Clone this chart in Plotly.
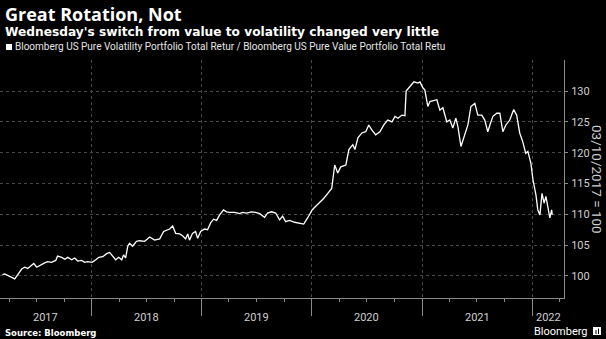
import plotly.graph_objects as go
import pandas as pd

# Ratio of the two Bloomberg pure-factor portfolios, rebased to 100 on 03/10/2017
dates = [
    "2017-03-10", "2017-03-18", "2017-04-03", "2017-04-20", "2017-04-30", "2017-05-13",
    "2017-05-23", "2017-06-02", "2017-06-12", "2017-06-22", "2017-07-02", "2017-07-15",
    "2017-07-28", "2017-08-07", "2017-08-20", "2017-09-03", "2017-09-09", "2017-09-23",
    "2017-10-03", "2017-10-13", "2017-10-26", "2017-11-05", "2017-11-15", "2017-11-28",
    "2017-12-08", "2017-12-18",
    "2018-01-02", "2018-01-14", "2018-01-24", "2018-02-06", "2018-02-19", "2018-03-01",
    "2018-03-11", "2018-03-21", "2018-03-31", "2018-04-10", "2018-04-16", "2018-04-23",
    "2018-04-30", "2018-05-06", "2018-05-16", "2018-05-29", "2018-06-08", "2018-06-25",
    "2018-07-12", "2018-07-28", "2018-08-14", "2018-08-27", "2018-09-16", "2018-09-26",
    "2018-10-06", "2018-10-19", "2018-10-29", "2018-11-08", "2018-11-15", "2018-11-21",
    "2018-12-01", "2018-12-11", "2018-12-18", "2018-12-28",
    "2019-01-10", "2019-01-20", "2019-01-30", "2019-02-09", "2019-02-19", "2019-03-01",
    "2019-03-14", "2019-03-24", "2019-04-03", "2019-04-20", "2019-05-06", "2019-05-16",
    "2019-05-29", "2019-06-15", "2019-06-28", "2019-07-12", "2019-07-28", "2019-08-07",
    "2019-08-20", "2019-09-03", "2019-09-16", "2019-09-26", "2019-10-06", "2019-10-19",
    "2019-11-05", "2019-11-21", "2019-12-05", "2019-12-18",
    "2020-01-02", "2020-01-14", "2020-01-31", "2020-02-10", "2020-02-23", "2020-03-07",
    "2020-03-17", "2020-03-27", "2020-04-06", "2020-04-23", "2020-05-03", "2020-05-16",
    "2020-05-23", "2020-06-02", "2020-06-15", "2020-06-28", "2020-07-08", "2020-07-18",
    "2020-07-31", "2020-08-14", "2020-08-27", "2020-09-09", "2020-09-23", "2020-10-03",
    "2020-10-13", "2020-10-26", "2020-11-05", "2020-11-09", "2020-11-21", "2020-12-05",
    "2020-12-18", "2020-12-25",
    "2021-01-04", "2021-01-10", "2021-01-20", "2021-01-27", "2021-02-19", "2021-03-01",
    "2021-03-11", "2021-03-24", "2021-04-03", "2021-04-13", "2021-04-23", "2021-04-30",
    "2021-05-10", "2021-05-23", "2021-06-02", "2021-06-12", "2021-06-25", "2021-07-05",
    "2021-07-18", "2021-07-28", "2021-08-07", "2021-08-14", "2021-08-24", "2021-09-06",
    "2021-09-16", "2021-09-26", "2021-10-06", "2021-10-19", "2021-11-01", "2021-11-11",
    "2021-11-21", "2021-12-01", "2021-12-11", "2021-12-18", "2021-12-28",
    "2022-01-04", "2022-01-14", "2022-01-20", "2022-01-27", "2022-02-03", "2022-02-10",
    "2022-02-16", "2022-02-23", "2022-03-01", "2022-03-07", "2022-03-09",
]
ratio = [
    100.2, 100.3, 99.9, 99.5, 100.2, 101.1,
    101.4, 101.2, 101.6, 102.0, 101.4, 101.8,
    102.1, 102.3, 102.2, 102.5, 103.2, 103.0,
    102.7, 103.0, 102.6, 102.9, 102.4, 102.5,
    102.2, 102.3,
    102.2, 102.6, 103.0, 103.1, 103.6, 103.8,
    103.2, 102.6, 103.0, 102.6, 103.4, 102.9,
    104.8, 105.3, 104.8, 105.6, 105.7, 105.6,
    106.3, 105.8, 106.0, 107.2, 107.6, 108.1,
    106.9, 106.8, 106.5, 106.0, 106.8, 105.8,
    106.9, 107.2, 106.1, 107.2,
    107.6, 107.5, 108.6, 109.2, 109.0, 109.9,
    110.7, 110.4, 110.3, 110.3, 110.1, 110.3,
    110.2, 110.4, 110.3, 110.1, 109.5, 110.2,
    110.4, 110.2, 109.1, 109.7, 108.8, 109.0,
    108.7, 108.6, 108.4, 109.4,
    110.7, 111.3, 112.1, 112.6, 113.4, 114.2,
    118.0, 116.7, 117.7, 118.0, 120.5, 121.3,
    120.5, 122.4, 123.2, 123.4, 124.5, 123.7,
    122.9, 123.4, 124.5, 125.3, 125.0, 125.9,
    125.6, 126.1, 126.0, 130.0, 130.7, 131.5,
    131.3, 131.5,
    130.5, 130.2, 127.5, 128.3, 128.6, 126.9,
    127.3, 125.0, 125.3, 124.0, 125.6, 124.2,
    121.0, 122.9, 124.5, 127.5, 128.0, 126.1,
    126.1, 125.3, 123.4, 124.5, 125.9, 126.4,
    126.4, 123.4, 124.5, 125.3, 127.0, 126.1,
    123.2, 121.8, 119.9, 120.2, 118.3,
    115.6, 113.1, 110.7, 109.9, 113.4, 111.8,
    112.9, 111.2, 109.4, 110.7, 109.9,
]

year_starts = ["2017-01-01", "2018-01-01", "2019-01-01", "2020-01-01",
               "2021-01-01", "2022-01-01", "2023-01-01"]
year_labels = ["2017", "2018", "2019", "2020", "2021", "2022"]
y_ticks = [100, 105, 110, 115, 120, 125, 130]

x_range = ["2017-03-02", "2022-04-17"]
y_range = [96.4, 135.05]

title = "Great Rotation, Not"
subtitle = "Wednesday's switch from value to volatility changed very little"
series_name = ("Bloomberg US Pure Volatility Portfolio Total Retur / "
               "Bloomberg US Pure Value Portfolio Total Retu")
y_title = "03/10/2017 = 100"
source = "Source: Bloomberg"

W, H = 606, 339
M_L, M_R, M_T, M_B = 0, 42, 60, 41

tick_col = "#cfcfcf"
axis_col = "#8a8a8a"
grid_col = "#484848"

fig = go.Figure()
fig.add_trace(go.Scatter(
    x=pd.to_datetime(dates), y=ratio, mode="lines",
    line=dict(color="#ffffff", width=1.3), showlegend=False,
    hoverinfo="skip",
))

pw, ph = W - M_L - M_R, H - M_T - M_B

# year labels sit centred in the visible part of each year
rng0, rng1 = pd.Timestamp(x_range[0]), pd.Timestamp(x_range[1])
annotations = []
for i, lab in enumerate(year_labels):
    a = max(pd.Timestamp(year_starts[i]), rng0)
    b = min(pd.Timestamp(year_starts[i + 1]), rng1)
    mid = a + (b - a) / 2
    annotations.append(dict(
        x=mid, y=-(317 - (H - M_B)) / ph, xref="x", yref="paper", text=lab,
        showarrow=False, xanchor="center", yanchor="middle", borderpad=0,
        font=dict(family="Roboto", size=11, color=tick_col),
    ))

# text blocks placed in pixels (x from left, y from top), converted below
texts = [
    dict(x=4, y=13.5, text="<b>" + title + "</b>", xanchor="left",
         font=dict(family="Open Sans", size=18, color="#ffffff")),
    dict(x=4, y=32.5, text="<b>" + subtitle + "</b>", xanchor="left",
         font=dict(family="DejaVu Sans", size=12.2, color="#ffffff")),
    dict(x=14, y=47, text=series_name, xanchor="left",
         font=dict(family="Roboto", size=10, color="#e6e6e6")),
    dict(x=597, y=179, text=y_title, xanchor="center", textangle=90,
         font=dict(family="Roboto", size=13.5, color=tick_col)),
    dict(x=4, y=332.5, text="<b>" + source + "</b>", xanchor="left",
         font=dict(family="DejaVu Sans", size=8.5, color="#ffffff")),
    dict(x=589, y=331.5, text="Bloomberg", xanchor="right",
         font=dict(family="Roboto", size=11, color="#ffffff")),
]
for t in texts:
    t.update(x=(t["x"] - M_L) / pw, y=((H - t["y"]) - M_B) / ph,
             xref="paper", yref="paper", showarrow=False,
             yanchor="middle", borderpad=0)
    annotations.append(t)


def px_rect(x0, x1, y0, y1, **kw):
    # rectangle given in pixels from the top-left corner
    return dict(type="rect", xref="paper", yref="paper",
                x0=(x0 - M_L) / pw, x1=(x1 - M_L) / pw,
                y0=((H - y1) - M_B) / ph, y1=((H - y0) - M_B) / ph, **kw)


shapes = [
    # legend swatch
    px_rect(6, 12, 44, 50, fillcolor="#ffffff", line=dict(width=0)),
    # logo mark
    px_rect(593, 601, 327, 335, fillcolor="#ffffff", line=dict(width=0)),
    px_rect(595.5, 596.5, 330, 334, fillcolor="#000000", line=dict(width=0)),
    px_rect(598, 599, 328.5, 334, fillcolor="#000000", line=dict(width=0)),
]

fig.update_layout(
    width=W, height=H,
    margin=dict(l=M_L, r=M_R, t=M_T, b=M_B),
    paper_bgcolor="#000000", plot_bgcolor="#000000",
    annotations=annotations, shapes=shapes,
    showlegend=False,
    xaxis=dict(
        type="date", range=x_range,
        tickvals=year_starts, showticklabels=False,
        ticks="outside", ticklen=17, tickwidth=1, tickcolor=axis_col,
        showgrid=True, gridcolor=grid_col, griddash="dot", gridwidth=1,
        showline=True, linecolor=axis_col, linewidth=1,
        zeroline=False,
        minor=dict(ticks="outside", ticklen=3, tickcolor=axis_col,
                   dtick="M3", tick0="2017-01-01", showgrid=False),
    ),
    yaxis=dict(
        range=y_range, side="right", tickvals=y_ticks,
        ticks="outside", ticklen=3, tickcolor=axis_col,
        tickfont=dict(family="Roboto", size=11, color=tick_col),
        showgrid=True, gridcolor=grid_col, griddash="dot", gridwidth=1,
        showline=True, linecolor=axis_col, linewidth=1,
        zeroline=False, ticklabelstandoff=1,
    ),
)

fig.write_html("out.html")
